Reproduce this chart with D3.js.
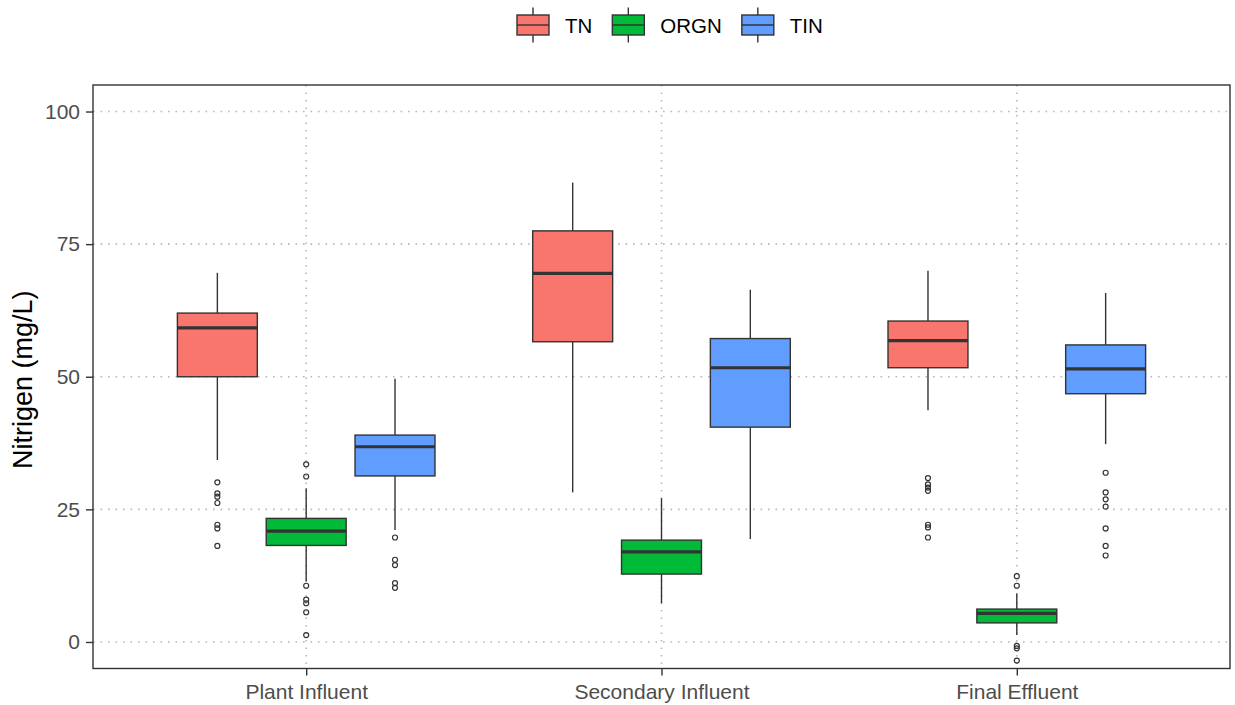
<!DOCTYPE html>
<html>
<head>
<meta charset="utf-8">
<script src="https://cdn.jsdelivr.net/npm/d3@7/dist/d3.min.js"></script>
<style>
  html, body { margin: 0; padding: 0; background: #fff; }
  svg { display: block; font-family: "Liberation Sans", Arial, sans-serif; }
</style>
</head>
<body>
<svg id="chart" width="1235" height="705"></svg>
<script>
// Treatment stages along the x axis
const categories = ["Plant Influent", "Secondary Influent", "Final Effluent"];
// Nitrogen species (fill groups)
const series = ["TN", "ORGN", "TIN"];
const seriesColors = ["#F8766D", "#00BA38", "#619CFF"];

// Box statistics per stage: [lower whisker, Q1, median, Q3, upper whisker]
const tnStats = [
  [34.3, 50.0, 59.2, 62.0, 69.6],
  [28.2, 56.6, 69.5, 77.5, 86.6],
  [43.7, 51.7, 56.8, 60.5, 70.0]
];
const orgnStats = [
  [11.4, 18.2, 20.9, 23.3, 29.0],
  [7.3, 12.8, 17.0, 19.2, 27.1],
  [1.3, 3.6, 5.4, 6.2, 9.2]
];
const tinStats = [
  [21.1, 31.3, 36.8, 39.0, 49.6],
  [19.4, 40.5, 51.7, 57.2, 66.4],
  [37.3, 46.8, 51.5, 56.0, 65.8]
];

// Outlying observations per stage
const tnOutliers = [
  [30.1, 28.0, 27.4, 26.2, 22.1, 21.4, 18.1],
  [],
  [30.9, 29.7, 29.1, 28.5, 22.1, 21.6, 19.7]
];
const orgnOutliers = [
  [33.5, 31.2, 10.6, 8.0, 7.3, 5.6, 1.3],
  [],
  [12.4, 10.6, -0.75, -1.2, -3.5]
];
const tinOutliers = [
  [19.7, 15.5, 14.5, 11.1, 10.2],
  [],
  [31.9, 28.2, 26.9, 25.5, 21.4, 18.1, 16.3]
];

const yTicks = [0, 25, 50, 75, 100];
const yTitle = "Nitrigen (mg/L)";

const statsBySeries = [tnStats, orgnStats, tinStats];
const outliersBySeries = [tnOutliers, orgnOutliers, tinOutliers];

const panel = { left: 93, right: 1230, top: 85, bottom: 668.5 };
const ink = "#333333";

const svg = d3.select("#chart");

const x = d3.scalePoint()
  .domain(categories)
  .range([panel.left, panel.right])
  .padding(0.6);
const step = x.step();

const dodge = d3.scaleBand()
  .domain(series)
  .range([-0.375 * step, 0.375 * step]);
const boxW = dodge.bandwidth() * 0.9;

const y = d3.scaleLinear()
  .domain([-5, 105])
  .range([panel.bottom, panel.top]);

const color = d3.scaleOrdinal().domain(series).range(seriesColors);

// Dotted grid
const grid = svg.append("g")
  .attr("stroke", "#b8b8b8")
  .attr("stroke-width", 1.6)
  .attr("stroke-dasharray", "1.6,5.9")
  .attr("fill", "none");
grid.selectAll("line.h").data(yTicks).join("line")
  .attr("class", "h")
  .attr("x1", panel.left).attr("x2", panel.right)
  .attr("y1", d => y(d)).attr("y2", d => y(d));
grid.selectAll("line.v").data(categories).join("line")
  .attr("class", "v")
  .attr("y1", panel.top).attr("y2", panel.bottom)
  .attr("x1", d => x(d)).attr("x2", d => x(d));

// Boxplots
const boxes = [];
categories.forEach((cat, ci) => {
  series.forEach((s, si) => {
    const st = statsBySeries[si][ci];
    boxes.push({
      cat, s,
      lo: st[0], q1: st[1], med: st[2], q3: st[3], hi: st[4],
      out: outliersBySeries[si][ci]
    });
  });
});

const bx = d => x(d.cat) + dodge(d.s) + dodge.bandwidth() / 2;

const g = svg.append("g").selectAll("g.box").data(boxes).join("g").attr("class", "box");

g.append("line")
  .attr("x1", bx).attr("x2", bx)
  .attr("y1", d => y(d.hi)).attr("y2", d => y(d.q3))
  .attr("stroke", ink).attr("stroke-width", 1.4);
g.append("line")
  .attr("x1", bx).attr("x2", bx)
  .attr("y1", d => y(d.q1)).attr("y2", d => y(d.lo))
  .attr("stroke", ink).attr("stroke-width", 1.4);
g.append("rect")
  .attr("x", d => bx(d) - boxW / 2)
  .attr("width", boxW)
  .attr("y", d => y(d.q3))
  .attr("height", d => y(d.q1) - y(d.q3))
  .attr("fill", d => color(d.s))
  .attr("stroke", ink).attr("stroke-width", 1.4);
g.append("line")
  .attr("x1", d => bx(d) - boxW / 2).attr("x2", d => bx(d) + boxW / 2)
  .attr("y1", d => y(d.med)).attr("y2", d => y(d.med))
  .attr("stroke", ink).attr("stroke-width", 3.2);
g.selectAll("circle").data(d => d.out.map(v => ({ v, d }))).join("circle")
  .attr("cx", o => bx(o.d))
  .attr("cy", o => y(o.v))
  .attr("r", 2.5)
  .attr("fill", "none")
  .attr("stroke", ink)
  .attr("stroke-width", 1.2);

// Panel border
svg.append("rect")
  .attr("x", panel.left).attr("y", panel.top)
  .attr("width", panel.right - panel.left)
  .attr("height", panel.bottom - panel.top)
  .attr("fill", "none").attr("stroke", ink).attr("stroke-width", 1.4);

// Axes
const yAxis = svg.append("g")
  .attr("transform", `translate(${panel.left},0)`)
  .call(d3.axisLeft(y).tickValues(yTicks).tickSize(7).tickPadding(6));
const xAxis = svg.append("g")
  .attr("transform", `translate(0,${panel.bottom})`)
  .call(d3.axisBottom(x).tickSize(7).tickPadding(9));
[yAxis, xAxis].forEach(ax => {
  ax.select(".domain").remove();
  ax.selectAll(".tick line").attr("stroke", ink).attr("stroke-width", 1.4);
  ax.selectAll(".tick text")
    .attr("fill", "#4d4d4d")
    .style("font-size", "21px")
    .style("font-family", "'Liberation Sans', Arial, sans-serif");
});

// Y-axis title
svg.append("text")
  .attr("transform", `translate(31.5,${(panel.top + panel.bottom) / 2 + 3}) rotate(-90)`)
  .attr("text-anchor", "middle")
  .attr("fill", "#000")
  .style("font-size", "27px")
  .text(yTitle);

// Legend: key glyph (mini boxplot) followed by its label, laid out left to right
const legend = svg.append("g").attr("transform", "translate(517,0)");
const keyW = 32, keyBoxTop = 15, keyBoxH = 20, keyGap = 16, itemGap = 20;
let cursor = 0;
series.forEach(s => {
  const gx = legend.append("g").attr("transform", `translate(${cursor},0)`);
  gx.append("line")
    .attr("x1", keyW / 2).attr("x2", keyW / 2)
    .attr("y1", keyBoxTop - 7.5).attr("y2", keyBoxTop + keyBoxH + 7.5)
    .attr("stroke", ink).attr("stroke-width", 1.4);
  gx.append("rect")
    .attr("x", 0).attr("y", keyBoxTop)
    .attr("width", keyW).attr("height", keyBoxH)
    .attr("fill", color(s)).attr("stroke", ink).attr("stroke-width", 1.4);
  gx.append("line")
    .attr("x1", 0).attr("x2", keyW)
    .attr("y1", keyBoxTop + keyBoxH / 2).attr("y2", keyBoxTop + keyBoxH / 2)
    .attr("stroke", ink).attr("stroke-width", 1.4);
  const t = gx.append("text")
    .attr("x", keyW + keyGap).attr("y", 33)
    .attr("fill", "#000")
    .style("font-size", "20.5px")
    .text(s);
  cursor += keyW + keyGap + t.node().getComputedTextLength() + itemGap;
});
</script>
</body>
</html>
